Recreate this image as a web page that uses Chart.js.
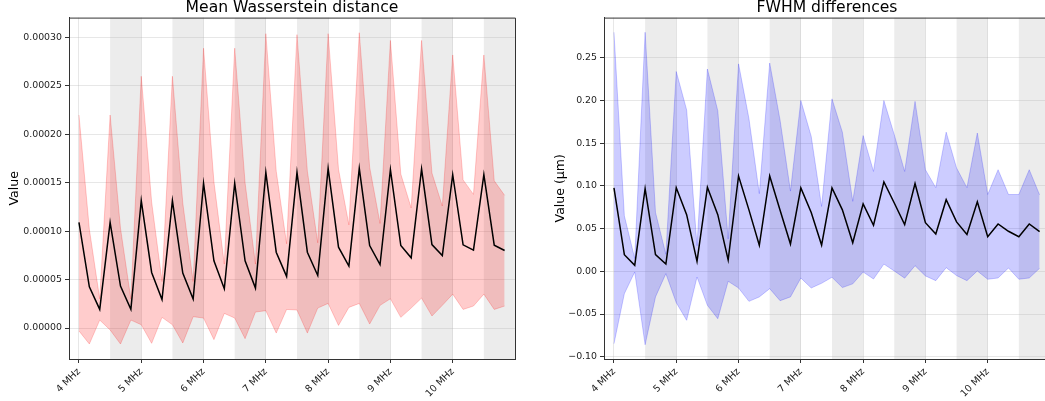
<!DOCTYPE html>
<html>
<head>
<meta charset="utf-8">
<script src="https://cdn.jsdelivr.net/npm/chart.js@4.4.1/dist/chart.umd.min.js"></script>
<style>
    html, body { margin: 0; padding: 0; background: #fff; overflow: hidden; width: 1045px; height: 401px; }
    canvas { position: absolute; top: 0; }
    #wass-chart { left: 0; }
    #fwhm-chart { left: 530px; }
</style>
</head>
<body>
<canvas id="wass-chart" width="530" height="401"></canvas>
<canvas id="fwhm-chart" width="530" height="401"></canvas>
<script>
const freqs = [
    4, 4.1667, 4.3333, 4.5, 4.6667, 4.8333,
    5, 5.1667, 5.3333, 5.5, 5.6667, 5.8333,
    6, 6.1667, 6.3333, 6.5, 6.6667, 6.8333,
    7, 7.1667, 7.3333, 7.5, 7.6667, 7.8333,
    8, 8.1667, 8.3333, 8.5, 8.6667, 8.8333,
    9, 9.1667, 9.3333, 9.5, 9.6667, 9.8333,
    10, 10.1667, 10.3333, 10.5, 10.6667, 10.8333
];
const tickValues = [4, 5, 6, 7, 8, 9, 10];
const tickLabels = ['4 MHz', '5 MHz', '6 MHz', '7 MHz', '8 MHz', '9 MHz', '10 MHz'];
const shadedBands = [[4.5, 5], [5.5, 6], [6.5, 7], [7.5, 8], [8.5, 9], [9.5, 10], [10.5, 11]];

// Mean Wasserstein distance (mean, mean - std, mean + std)
const wassMean = [
    1.09e-4, 4.26e-5, 1.92e-5, 1.09e-4, 4.33e-5, 1.92e-5,
    1.316e-4, 5.74e-5, 2.95e-5, 1.316e-4, 5.67e-5, 2.99e-5,
    1.495e-4, 6.94e-5, 4.05e-5, 1.495e-4, 6.94e-5, 4.12e-5,
    1.608e-4, 7.83e-5, 5.33e-5, 1.608e-4, 7.83e-5, 5.43e-5,
    1.649e-4, 8.35e-5, 6.39e-5, 1.649e-4, 8.52e-5, 6.56e-5,
    1.636e-4, 8.52e-5, 7.25e-5, 1.642e-4, 8.62e-5, 7.49e-5,
    1.584e-4, 8.59e-5, 8.04e-5, 1.584e-4, 8.56e-5, 8.01e-5
];
const wassLower = [
    -3e-6, -1.65e-5, 8.2e-6, -2e-6, -1.65e-5, 8.2e-6,
    3.4e-6, -1.58e-5, 1.1e-5, 3.4e-6, -1.55e-5, 1.17e-5,
    1.03e-5, -1.2e-5, 1.51e-5, 1.03e-5, -1.1e-5, 1.65e-5,
    1.79e-5, -5.2e-6, 1.92e-5, 1.86e-5, -5.2e-6, 2.06e-5,
    2.54e-5, 2.7e-6, 2.13e-5, 2.54e-5, 4.1e-6, 2.34e-5,
    3.02e-5, 1.1e-5, 2.06e-5, 3.09e-5, 1.24e-5, 2.34e-5,
    3.5e-5, 1.92e-5, 2.27e-5, 3.5e-5, 1.92e-5, 2.27e-5
];
const wassUpper = [
    2.2e-4, 1.02e-4, 3.0e-5, 2.2e-4, 1.03e-4, 3.0e-5,
    2.6e-4, 1.3e-4, 4.8e-5, 2.6e-4, 1.29e-4, 4.8e-5,
    2.89e-4, 1.51e-4, 6.6e-5, 2.89e-4, 1.5e-4, 6.6e-5,
    3.04e-4, 1.62e-4, 8.7e-5, 3.03e-4, 1.62e-4, 8.8e-5,
    3.04e-4, 1.64e-4, 1.065e-4, 3.05e-4, 1.66e-4, 1.08e-4,
    2.97e-4, 1.59e-4, 1.24e-4, 2.97e-4, 1.6e-4, 1.26e-4,
    2.82e-4, 1.53e-4, 1.38e-4, 2.82e-4, 1.52e-4, 1.37e-4
];
const wassTicks = [0, 0.00005, 0.0001, 0.00015, 0.0002, 0.00025, 0.0003];

// FWHM differences in micrometres
const fwhmMean = [
    0.0977, 0.0195, 0.0070, 0.0969, 0.0195, 0.0086,
    0.0980, 0.0664, 0.0117, 0.0984, 0.0664, 0.0133,
    0.1117, 0.0720, 0.0305, 0.1117, 0.0715, 0.0320,
    0.0977, 0.0690, 0.0308, 0.0976, 0.0720, 0.0335,
    0.0790, 0.0540, 0.1047, 0.0800, 0.0547, 0.1028,
    0.0570, 0.0437, 0.0839, 0.0579, 0.0433, 0.0815,
    0.0405, 0.0555, 0.0469, 0.0405, 0.0555, 0.0465
];
const fwhmLower = [
    -0.0848, -0.0262, -0.0008, -0.0860, -0.0300, -0.0027,
    -0.0367, -0.0574, -0.0066, -0.0398, -0.0555, -0.0117,
    -0.0195, -0.0352, -0.0300, -0.0203, -0.0344, -0.0300,
    -0.0078, -0.0195, -0.0140, -0.0070, -0.0190, -0.0147,
    -0.0008, -0.0090, 0.0085, 0.0004, -0.0080, 0.0066,
    -0.0054, -0.0109, 0.0043, -0.0050, -0.0109, 0.0004,
    -0.0093, -0.0078, 0.0039, -0.0093, -0.0078, 0.0035
];
const fwhmUpper = [
    0.280, 0.065, 0.015, 0.280, 0.069, 0.020,
    0.234, 0.189, 0.030, 0.237, 0.188, 0.038,
    0.243, 0.179, 0.091, 0.244, 0.177, 0.094,
    0.200, 0.158, 0.076, 0.202, 0.163, 0.082,
    0.159, 0.117, 0.200, 0.160, 0.117, 0.199,
    0.119, 0.098, 0.163, 0.121, 0.098, 0.162,
    0.090, 0.119, 0.090, 0.090, 0.119, 0.0895
];
const fwhmTicks = [-0.10, -0.05, 0, 0.05, 0.10, 0.15, 0.20, 0.25];

Chart.defaults.font.family = "'DejaVu Sans', sans-serif";
Chart.defaults.color = '#222';

const GRID = 'rgba(176, 176, 176, 0.3)';
const SPINE = '#333';

// grey axvspan bands under the grid, plus the top/right spines matplotlib draws
const bandsAndFrame = {
    id: 'bandsAndFrame',
    beforeDraw(chart) {
        const { ctx, chartArea, scales: { x } } = chart;
        ctx.save();
        ctx.fillStyle = 'rgba(128, 128, 128, 0.15)';
        shadedBands.forEach(([a, b]) => {
            const x0 = Math.max(x.getPixelForValue(a), chartArea.left);
            const x1 = Math.min(x.getPixelForValue(b), chartArea.right);
            ctx.fillRect(x0, chartArea.top, x1 - x0, chartArea.bottom - chartArea.top);
        });
        ctx.restore();
    },
    afterDraw(chart) {
        const { ctx, chartArea } = chart;
        ctx.save();
        ctx.strokeStyle = SPINE;
        ctx.lineWidth = 1;
        ctx.beginPath();
        ctx.moveTo(chartArea.left, chartArea.top + 0.5);
        ctx.lineTo(chartArea.right + 0.5, chartArea.top + 0.5);
        ctx.lineTo(chartArea.right + 0.5, chartArea.bottom);
        ctx.stroke();
        ctx.restore();
    }
};

const toPoints = values => freqs.map((f, i) => ({ x: f, y: values[i] }));

function buildChart(canvasId, cfg) {
    const ctx = document.getElementById(canvasId).getContext('2d');
    return new Chart(ctx, {
        type: 'line',
        data: {
            datasets: [
                {
                    data: toPoints(cfg.mean),
                    borderColor: '#000',
                    borderWidth: 1.5,
                    fill: false
                },
                {
                    data: toPoints(cfg.upper),
                    borderColor: cfg.edge,
                    backgroundColor: cfg.fillColor,
                    borderWidth: 1,
                    fill: '+1'
                },
                {
                    data: toPoints(cfg.lower),
                    borderColor: cfg.edge,
                    borderWidth: 1,
                    fill: false
                }
            ]
        },
        options: {
            responsive: false,
            animation: false,
            devicePixelRatio: 1,
            layout: { padding: { left: 0, right: cfg.padRight, top: 0, bottom: 0 } },
            elements: {
                point: { radius: 0 },
                line: { tension: 0 }
            },
            plugins: {
                legend: { display: false },
                tooltip: { enabled: false },
                title: {
                    display: true,
                    text: cfg.title,
                    fullSize: false,
                    color: '#000',
                    font: { size: 15.6, weight: 'normal', lineHeight: 1 },
                    padding: { top: 0, bottom: 2 }
                }
            },
            scales: {
                x: {
                    type: 'linear',
                    min: 3.84,
                    max: 11.0,
                    afterBuildTicks: axis => {
                        axis.ticks = tickValues.map(v => ({ value: v }));
                    },
                    afterFit: axis => { axis.height = 42; },
                    ticks: {
                        autoSkip: false,
                        minRotation: 45,
                        maxRotation: 45,
                        padding: 3,
                        color: '#222',
                        font: { size: 9.6 },
                        callback: (value, index) => tickLabels[index]
                    },
                    grid: { color: GRID, tickColor: SPINE, tickLength: 4 },
                    border: { color: SPINE, width: 1 }
                },
                y: {
                    min: cfg.yMin,
                    max: cfg.yMax,
                    afterBuildTicks: axis => {
                        axis.ticks = cfg.yTicks.map(v => ({ value: v }));
                    },
                    afterFit: axis => { axis.width = cfg.yWidth; },
                    ticks: {
                        padding: 3,
                        color: '#222',
                        font: { size: 9.4 },
                        callback: cfg.format
                    },
                    grid: { color: GRID, tickColor: SPINE, tickLength: 4 },
                    border: { color: SPINE, width: 1 },
                    title: {
                        display: true,
                        text: cfg.yLabel,
                        color: '#000',
                        font: { size: 12.5 },
                        padding: { top: cfg.labelPad, bottom: 0 }
                    }
                }
            }
        },
        plugins: [bandsAndFrame]
    });
}

buildChart('wass-chart', {
    title: 'Mean Wasserstein distance',
    yLabel: 'Value',
    mean: wassMean,
    upper: wassUpper,
    lower: wassLower,
    yTicks: wassTicks,
    yMin: -0.000032,
    yMax: 0.0003206,
    yWidth: 69,
    padRight: 15,
    labelPad: 7.5,
    edge: 'rgba(255, 0, 0, 0.2)',
    fillColor: 'rgba(255, 0, 0, 0.2)',
    format: value => value.toFixed(5)
});

buildChart('fwhm-chart', {
    title: 'FWHM differences',
    yLabel: 'Value (μm)',
    mean: fwhmMean,
    upper: fwhmUpper,
    lower: fwhmLower,
    yTicks: fwhmTicks,
    yMin: -0.1027,
    yMax: 0.2972,
    yWidth: 74,
    padRight: 10,
    labelPad: 23,
    edge: 'rgba(0, 0, 255, 0.2)',
    fillColor: 'rgba(0, 0, 255, 0.2)',
    format: value => value.toFixed(2).replace('-', '\u2212')
});
</script>
</body>
</html>
